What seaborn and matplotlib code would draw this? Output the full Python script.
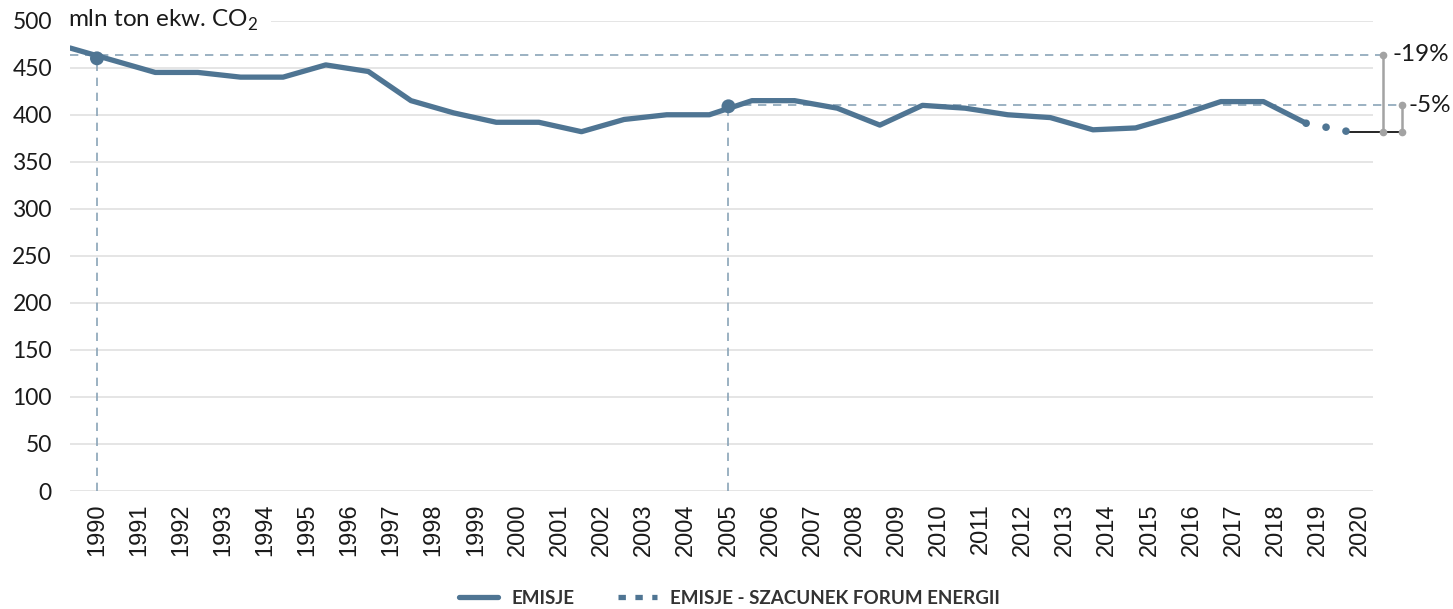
import numpy as np
import pandas as pd
import matplotlib.pyplot as plt
import seaborn as sb
from matplotlib.lines import Line2D

# DATA
years = list(range(1990, 2021))
emisje = [471, 458, 445, 445, 440, 440, 453, 446, 415, 402,
          392, 392, 382, 395, 400, 400, 415, 415, 407, 389,
          410, 407, 400, 397, 384, 386, 399, 414, 414, 391]
szacunek = [391, 382]
punkty_lata = [1990, 2005]
punkty_wart = [460, 409]
poziom_1990 = 464
poziom_2005 = 410
poziom_2020 = 382
etykiety_proc = ['-19%', '-5%']

kolor = '#4f7593'
kolor_ref = '#8aa4b8'
kolor_nawias = '#a3a3a3'

sb.set_style('white')
plt.rcParams['font.family'] = ['Lato', 'DejaVu Sans']
plt.rcParams['mathtext.fontset'] = 'custom'
plt.rcParams['mathtext.rm'] = 'Lato'
plt.rcParams['text.color'] = '#1a1a1a'

fig = plt.figure(figsize=(14.53, 6.09), dpi=100)
ax = fig.add_axes([70/1453, 1-491/609, 1303/1453, 470.3/609])

# os lat (etykiety)
x_lat = np.arange(len(years))
ax.set_xlim(-0.64, 30.31)
ax.set_ylim(0, 500)
ax.set_xticks(x_lat)
ax.set_xticklabels(years, rotation=90, fontfamily='Liberation Sans', fontsize=17)
ax.set_yticks(range(0, 501, 50))
ax.tick_params(axis='y', labelsize=16.5, length=0, pad=13, colors='#1a1a1a')
ax.tick_params(axis='x', length=0, pad=9, colors='#1a1a1a')
ax.yaxis.grid(True, color='#e0e0e0', lw=1.2)
ax.xaxis.grid(False)
for s in ax.spines.values():
    s.set_visible(False)

# linie odniesienia
ax.vlines([years.index(r) for r in punkty_lata], 0, punkty_wart,
          color=kolor_ref, lw=1.2, linestyles=(0, (5, 4)), zorder=2)
ytr = ax.get_yaxis_transform()
x0, x1 = ax.get_xlim()
x2005 = (years.index(2005) - x0) / (x1 - x0)
ax.plot([0, 1.0077], [poziom_1990, poziom_1990], transform=ytr, clip_on=False,
        color=kolor_ref, lw=1.2, ls=(0, (5, 4)), zorder=2)
ax.plot([x2005, 1.0223], [poziom_2005, poziom_2005], transform=ytr, clip_on=False,
        color=kolor_ref, lw=1.2, ls=(0, (5, 4)), zorder=2)

sb.scatterplot(x=[years.index(r) for r in punkty_lata], y=punkty_wart, ax=ax,
               color=kolor, s=100, edgecolor='none', zorder=5)

# nawiasy procentowe
ax.plot([0.981, 1.0235], [poziom_2020, poziom_2020], transform=ytr, clip_on=False,
        color='black', lw=1.2, zorder=3)
ax.plot([1.0077, 1.0077], [poziom_1990, poziom_2020], transform=ytr, clip_on=False,
        color=kolor_nawias, lw=1.8, marker='o', ms=4.5, zorder=4)
ax.plot([1.0223, 1.0223], [poziom_2005, poziom_2020], transform=ytr, clip_on=False,
        color=kolor_nawias, lw=1.8, marker='o', ms=4.5, zorder=4)
ax.text(1.0150, poziom_1990, etykiety_proc[0], transform=ytr, ha='left', va='center', fontsize=17.5)
ax.text(1.0270, poziom_2005, etykiety_proc[1], transform=ytr, ha='left', va='center', fontsize=17.5)

ax.text(-0.0015, 500, 'mln ton ekw. CO$_2$', transform=ytr, ha='left', va='center',
        fontsize=17.5, bbox=dict(facecolor='white', edgecolor='none', pad=9), zorder=6)

# seria emisji na wlasnej osi kategorii
ax2 = ax.twiny()
ax2.set_xlim(0, 30.57)
ax2.set_xticks([])
for s in ax2.spines.values():
    s.set_visible(False)
sb.lineplot(x=np.arange(len(emisje)), y=emisje, ax=ax2, color=kolor, lw=3.8,
            solid_capstyle='round', solid_joinstyle='round')
sb.lineplot(x=[len(emisje)-1, len(emisje)], y=szacunek, ax=ax2, color=kolor, lw=5.5,
            linestyle=(0, (0.01, 2.65)), dash_capstyle='round')
ax2.set_ylim(0, 500)
ax2.set_xlabel('')
ax2.set_ylabel('')

# legenda
uchwyty = [Line2D([], [], color=kolor, lw=3.8, solid_capstyle='round'),
           Line2D([], [], color=kolor, lw=3.8, ls=(0, (1.4, 1.8)), dash_capstyle='butt')]
fig.legend(uchwyty, ['EMISJE', 'EMISJE - SZACUNEK FORUM ENERGII'], loc='center',
           bbox_to_anchor=(0.502, 0.018), ncol=2, frameon=False,
           prop={'weight': 'bold', 'size': 13.5}, handlelength=2.1, handletextpad=0.7,
           columnspacing=2.3, labelcolor='#333333')

fig.savefig('out.png', dpi=100)
